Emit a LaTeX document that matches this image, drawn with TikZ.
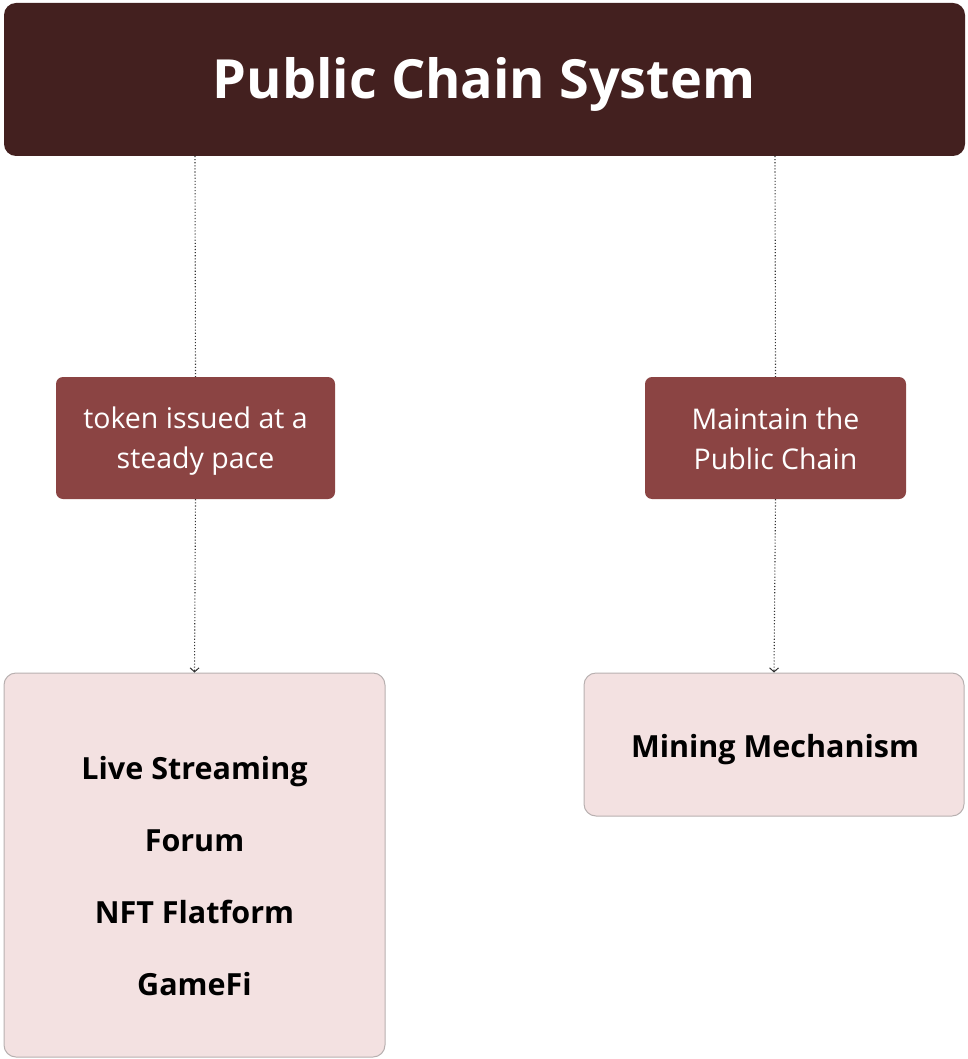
\documentclass[tikz,border=0pt]{standalone}
\usepackage{fontspec}
\setmainfont{Open Sans}
\usetikzlibrary{arrows.meta}
\definecolor{topc}{HTML}{43201F}
\definecolor{midc}{HTML}{8B4443}
\definecolor{lowc}{HTML}{F3E1E1}
\definecolor{lowb}{HTML}{B8B0B0}
\definecolor{linec}{HTML}{333333}
\begin{document}
\begin{tikzpicture}[x=1pt,y=-1pt,
  topbox/.style={fill=topc,rounded corners=12pt,draw=none},
  midbox/.style={fill=midc,rounded corners=7pt,draw=none},
  lowbox/.style={fill=lowc,draw=lowb,line width=1pt,rounded corners=12pt},
  midtext/.style={white,font=\fontsize{28.5}{40}\selectfont,align=center},
  lowtext/.style={font=\bfseries\fontsize{30.5}{72}\selectfont,align=center},
  conn/.style={draw=linec,dotted,line width=1.1pt},
  arr/.style={conn,-{Straight Barb[length=4pt,width=9pt,line width=1pt]}}]
\useasboundingbox (0,0) rectangle (967,1059);
\fill[topbox] (4,3) rectangle (965,156);
\node[text=white,font=\bfseries\fontsize{54}{60}\selectfont] (top) at (484,84) {Public Chain System};
\coordinate (topS1) at (195,156);
\coordinate (topS2) at (775,156);
\node[midbox,minimum width=279pt,minimum height=122pt,inner sep=0pt] (m1) at (195.5,438) {};
\node[midtext] (m1t) at (195.5,441) {token issued at a\\steady pace};
\node[midbox,minimum width=261pt,minimum height=122pt,inner sep=0pt] (m2) at (775.5,438) {};
\node[midtext] (m2t) at (775.5,438.5) {Maintain the\\Public Chain};
\node[lowbox,minimum width=381pt,minimum height=384pt,inner sep=0pt] (b1) at (194.5,865) {};
\node[lowtext] (b1t) at (194.5,876) {Live Streaming\\Forum\\NFT Flatform\\GameFi};
\node[lowbox,minimum width=380pt,minimum height=143pt,inner sep=0pt] (b2) at (774,744.5) {};
\node[lowtext] (b2t) at (775,750) {Mining Mechanism};
\draw[conn] (topS1) -- (m1.north);
\draw[conn] (topS2) -- (m2.north);
\draw[arr] (m1.south) -- (b1.north);
\draw[arr] (m2.south) -- (b2.north);
\end{tikzpicture}
\end{document}
